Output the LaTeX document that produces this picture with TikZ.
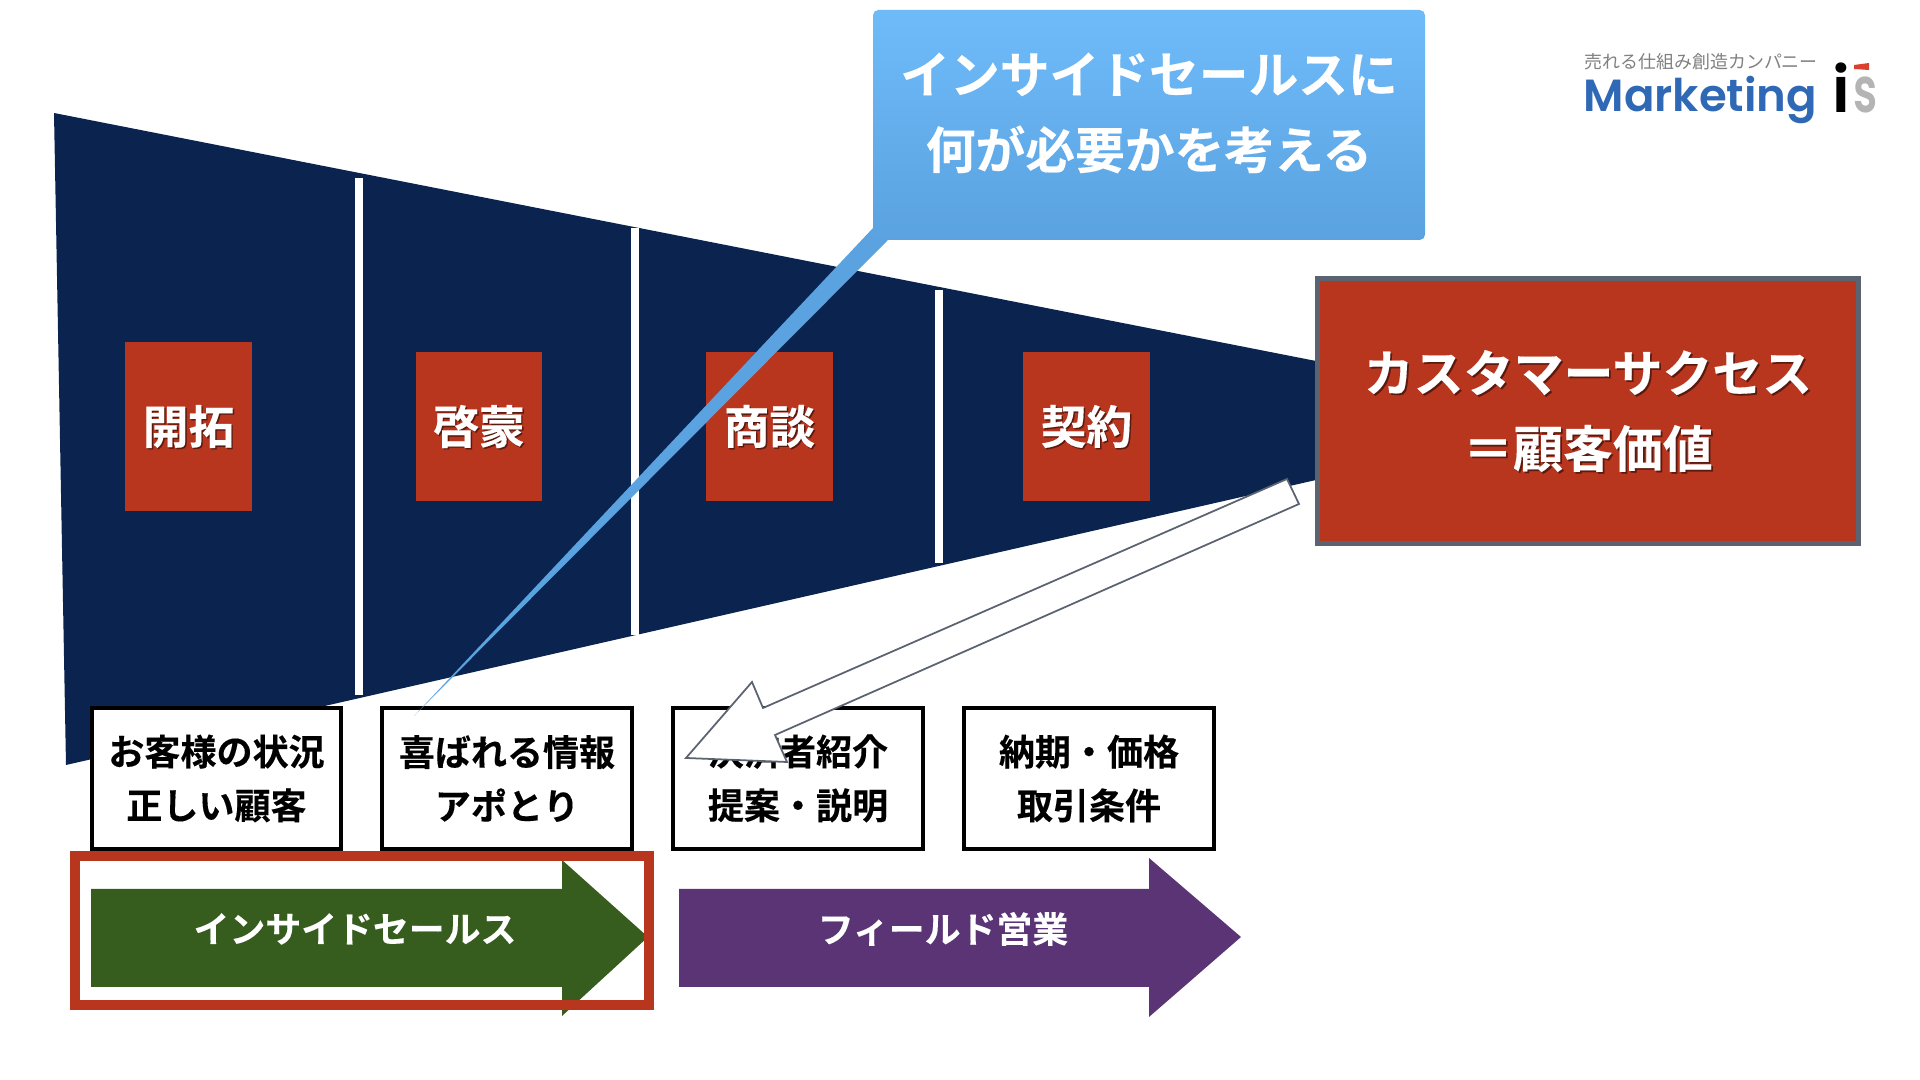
\documentclass[tikz,border=0pt]{standalone}
\usepackage{fontspec}
\setmainfont{Noto Sans CJK JP}[BoldFont={* Bold},BoldFeatures={FakeBold=0.25}]
\newfontfamily\logofont{Poppins SemiBold}
\usepackage{xcolor}
\definecolor{funnelnavy}{HTML}{0B244F}
\definecolor{brickred}{HTML}{B8351E}
\definecolor{slategray}{HTML}{5B6270}
\definecolor{calloutblue}{HTML}{5AA2E0}
\definecolor{calloutlight}{HTML}{6FBBFA}
\definecolor{leafgreen}{HTML}{365C1E}
\definecolor{fieldpurple}{HTML}{5A3475}
\definecolor{logoblue}{HTML}{2F68B4}
\definecolor{logogray}{HTML}{B4B4B4}
\definecolor{logored}{HTML}{D9402E}
\definecolor{textshadow}{HTML}{5A1A10}
\tikzset{
  stagebox/.style={fill=brickred,inner sep=0pt},
  stagetext/.style={text=white,inner sep=0pt,font=\fontsize{13}{15}\selectfont\bfseries},
  stageshadow/.style={stagetext,text=textshadow,xshift=0.4pt,yshift=-0.4pt},
  valuetext/.style={text=white,align=center,inner sep=0pt,font=\fontsize{14.2}{21.5}\selectfont\bfseries},
  valueshadow/.style={valuetext,text=textshadow,xshift=0.5pt,yshift=-0.5pt},
  taskbox/.style={draw=black,line width=1.1pt,fill=white,align=center,inner sep=0pt,
    minimum width=71pt,minimum height=40pt,font=\fontsize{10.25}{15.3}\selectfont\bfseries},
  divider/.style={white,line width=2pt},
  arrowlabel/.style={text=white,font=\fontsize{10.2}{12}\selectfont\bfseries,inner sep=0pt}
}
\begin{document}
\begin{tikzpicture}[x=0.01cm,y=-0.01cm]
\useasboundingbox (0,0) rectangle (1920,1080);
% funnel
\fill[funnelnavy] (54,113)--(1316,361)--(1316,480)--(66,765)--cycle;
\draw[divider] (359,178)--(359,695);
\draw[divider] (635,228)--(635,635);
\draw[divider] (939,290)--(939,563);
\node[stagebox,minimum width=36pt,minimum height=47.9pt] (kaitaku) at (188.5,426.5) {};
\node[stagebox,minimum width=36pt,minimum height=42.5pt] (keimo) at (479,426.5) {};
\node[stagebox,minimum width=36pt,minimum height=42.5pt] (shodan) at (769.5,426.5) {};
\node[stagebox,minimum width=36pt,minimum height=42.5pt] (keiyaku) at (1086.5,426.5) {};
\node[stageshadow] (kaitakushadow) at (kaitaku) {開拓};
\node[stageshadow] (keimoshadow) at (keimo) {啓蒙};
\node[stageshadow] (shodanshadow) at (shodan) {商談};
\node[stageshadow] (keiyakushadow) at (keiyaku) {契約};
\node[stagetext] (kaitakulabel) at (kaitaku) {開拓};
\node[stagetext] (keimolabel) at (keimo) {啓蒙};
\node[stagetext] (shodanlabel) at (shodan) {商談};
\node[stagetext] (keiyakulabel) at (keiyaku) {契約};
% value box
\node[draw=slategray,line width=1.4pt,fill=brickred,inner sep=0pt,
  minimum width=153.6pt,minimum height=75.3pt] (value) at (1588,411) {};
\node[valueshadow] (valueback) at (value) {カスタマーサクセス\\＝顧客価値};
\node[valuetext] (valuelabel) at (value) {カスタマーサクセス\\＝顧客価値};
% tasks
\node[taskbox] (task1) at (216.5,778.5) {お客様の状況\\正しい顧客};
\node[taskbox] (task2) at (507,778.5) {喜ばれる情報\\アポとり};
\node[taskbox] (task3) at (798,778.5) {決済者紹介\\提案・説明};
\node[taskbox] (task4) at (1089,778.5) {納期・価格\\取引条件};
% callout
\fill[calloutblue] (873,228)--(888,240)--(414,716)--cycle;
\shade[top color=calloutlight,bottom color=calloutblue,rounded corners=1.5pt] (873,10) rectangle (1425,240);
\node[text=white,align=center,inner sep=0pt,font=\fontsize{14.15}{21.5}\selectfont\bfseries] (callout) at (1149,113) {インサイドセールスに\\何が必要かを考える};
% white arrow
\draw[slategray,fill=white,line width=0.5pt,line join=miter] (1287,479)--(1299,504)--(775,735)--(787,762)--(686,758)--(752,682)--(763,708)--cycle;
% sales arrows
\fill[leafgreen] (91,889)--(562,889)--(562,860)--(648,937)--(562,1016)--(562,987)--(91,987)--cycle;
\fill[fieldpurple] (679,889)--(1149,889)--(1149,858)--(1241,937)--(1149,1017)--(1149,987)--(679,987)--cycle;
\node[arrowlabel] (inside) at (355,929) {インサイドセールス};
\node[arrowlabel] (field) at (943,929) {フィールド営業};
\draw[brickred,line width=2.8pt] (75,856) rectangle (649,1005);
% logo
\node[text=gray,inner sep=0pt,anchor=west,font=\fontsize{5.1}{6}\selectfont] (tagline) at (1584,62) {売れる仕組み創造カンパニー};
\node[text=logoblue,inner sep=0pt,anchor=west,font=\logofont\fontsize{12.8}{16}\selectfont] (brand) at (1583,100) {Marketing};
\node[text=black,inner sep=0pt,anchor=base,font=\logofont\fontsize{18}{20}\selectfont] (logoi) at (1841,113) {i};
\node[text=logogray,inner sep=0pt,anchor=base,xscale=0.7,font=\logofont\fontsize{18}{20}\selectfont] (logos) at (1866,113) {s};
\fill[logored] (1854,65)--(1869,63)--(1869,70)--(1854,69)--cycle;
\end{tikzpicture}
\end{document}
